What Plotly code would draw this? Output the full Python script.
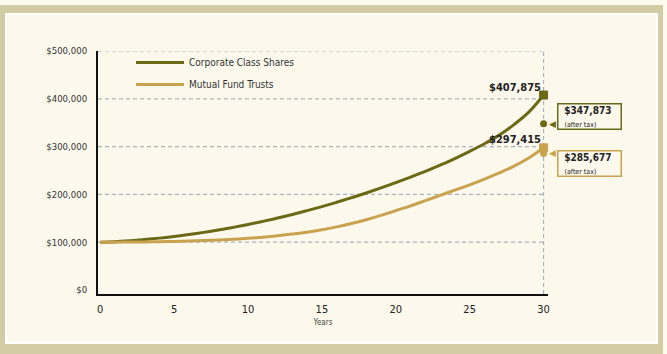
import plotly.graph_objects as go

# ---------------- data ----------------
years = list(range(0, 31))
corporate = [100000, 101000, 103000, 105500, 108500, 112000, 116000, 120500, 125500, 131000,
             137000, 143500, 150500, 158000, 166000, 174500, 183500, 193000, 203000, 213500,
             224500, 236000, 248000, 261000, 275000, 290000, 306000, 324000, 346000, 372000,
             407875]
mutual = [100000, 100100, 100300, 100600, 101100, 101700, 102400, 103300, 104500, 106000,
          108000, 110500, 113500, 117000, 121000, 126000, 132000, 139000, 147000, 156000,
          166000, 176000, 187000, 198000, 209000, 220000, 232000, 245000, 259000, 276000,
          297415]
series_names = ["Corporate Class Shares", "Mutual Fund Trusts"]
end_values = [407875, 297415]
after_tax = [347873, 285677]
end_labels = ["$407,875", "$297,415"]
after_tax_labels = ["$347,873", "$285,677"]
y_ticks = [0, 100000, 200000, 300000, 400000, 500000]
y_tick_labels = ["$0", "$100,000", "$200,000", "$300,000", "$400,000", "$500,000"]
x_ticks = [0, 5, 10, 15, 20, 25, 30]
x_tick_labels = ["0", "5", "10", "15", "20", "25", "30"]

# ---------------- style ----------------
W_FIG, H_FIG = 667, 354
L, T = 98, 51
PW, PH = 450, 243
R = W_FIG - L - PW
B = H_FIG - T - PH
FONT = "Liberation Sans Narrow, DejaVu Sans Condensed, Arial Narrow, sans-serif"
C_CORP = "#6b6816"
C_MUT = "#c9a24f"
GRID = "#a7b5c0"
OUTER = "#d3cba3"
INNER = "#fcf9ec"
TXT = "#222222"
NB = "\u00a0"

def px_x(p):
    return (p - L) / PW

def px_y(p):
    return 1 - (p - T) / PH

fig = go.Figure()

colors = [C_CORP, C_MUT]
for name, vals, col, grp in zip(series_names, [corporate, mutual], colors, ["a", "b"]):
    fig.add_trace(go.Scatter(x=years, y=vals, mode="lines", name=name,
                             line=dict(color=col, width=3, shape="spline"),
                             legendgroup=grp, hoverinfo="skip"))

fig.add_trace(go.Scatter(x=[years[-1]] * 2, y=end_values, mode="markers",
                         marker=dict(symbol="square", size=8, color=colors,
                                     line=dict(color=colors, width=1)),
                         showlegend=False, cliponaxis=False, hoverinfo="skip"))
fig.add_trace(go.Scatter(x=[years[-1]] * 2, y=after_tax, mode="markers",
                         marker=dict(symbol="circle", size=7, color=colors),
                         showlegend=False, cliponaxis=False, hoverinfo="skip"))

shapes = []
shapes.append(dict(type="rect", xref="paper", yref="paper", layer="below",
                   x0=px_x(0), x1=px_x(663), y0=px_y(354), y1=px_y(5),
                   fillcolor=OUTER, line=dict(width=0)))
shapes.append(dict(type="rect", xref="paper", yref="paper", layer="below",
                   x0=px_x(6), x1=px_x(657), y0=px_y(343), y1=px_y(14),
                   fillcolor=INNER, line=dict(color="#ffffff", width=2)))
for v in y_ticks[1:]:
    shapes.append(dict(type="line", xref="x", yref="y", layer="below",
                       x0=-0.15, x1=x_ticks[-1], y0=v, y1=v,
                       line=dict(color=GRID, width=1.2, dash="4px,3px")))
shapes.append(dict(type="line", xref="x", yref="y", layer="below",
                   x0=x_ticks[-1], x1=x_ticks[-1], y0=-8400, y1=y_ticks[-1],
                   line=dict(color=GRID, width=1.2, dash="4px,3px")))

annotations = []
for lab, v in zip(end_labels, end_values):
    annotations.append(dict(x=years[-1], y=v, xref="x", yref="y", text="<b>" + lab + "</b>",
                            showarrow=False, xanchor="right", yanchor="middle",
                            xshift=-1, yshift=8,
                            font=dict(family=FONT, size=11, color=TXT)))
box_shift = [7, -10]
for lab, v, col, ys in zip(after_tax_labels, after_tax, colors, box_shift):
    annotations.append(dict(x=years[-1], y=v, xref="x", yref="y",
                            text=NB * 2 + "<b>" + lab + "</b><br><span style='font-size:7px'>"
                                 + NB * 3 + "(after tax)</span>",
                            showarrow=False, xanchor="left", yanchor="middle", align="left",
                            xshift=13, yshift=ys, width=62, borderpad=0,
                            bordercolor=col, borderwidth=1.5, bgcolor=INNER,
                            font=dict(family=FONT, size=10, color=TXT)))
    annotations.append(dict(x=years[-1], y=v, xref="x", yref="y", text="◀",
                            showarrow=False, xanchor="right", yanchor="middle",
                            xshift=14, yshift=0, font=dict(family="DejaVu Sans", size=9, color=col)))

fig.update_layout(
    width=W_FIG, height=H_FIG,
    margin=dict(l=L, r=R, t=T, b=B, pad=0),
    paper_bgcolor="#fdfbee", plot_bgcolor="rgba(0,0,0,0)",
    shapes=shapes, annotations=annotations,
    showlegend=True,
    legend=dict(x=px_x(131), y=px_y(48), xanchor="left", yanchor="top",
                bgcolor="rgba(0,0,0,0)", tracegroupgap=3, itemwidth=48,
                font=dict(family=FONT, size=10, color="#333333")),
    xaxis=dict(range=[-0.15, 30.3], tickvals=x_ticks, ticktext=x_tick_labels,
               showgrid=False, zeroline=False, showline=True, linecolor="#111111", linewidth=2,
               ticks="", ticklabelstandoff=4,
               tickfont=dict(family=FONT, size=11, color=TXT),
               title=dict(text="Years", standoff=4,
                          font=dict(family=FONT, size=8, color="#444444"))),
    yaxis=dict(range=[-8400, 500000], tickvals=y_ticks, ticktext=y_tick_labels,
               showgrid=False, zeroline=False, showline=True, linecolor="#111111", linewidth=2,
               ticks="", ticklabelstandoff=7,
               tickfont=dict(family=FONT, size=9.5, color="#333333")),
)

fig.write_html("out.html")
